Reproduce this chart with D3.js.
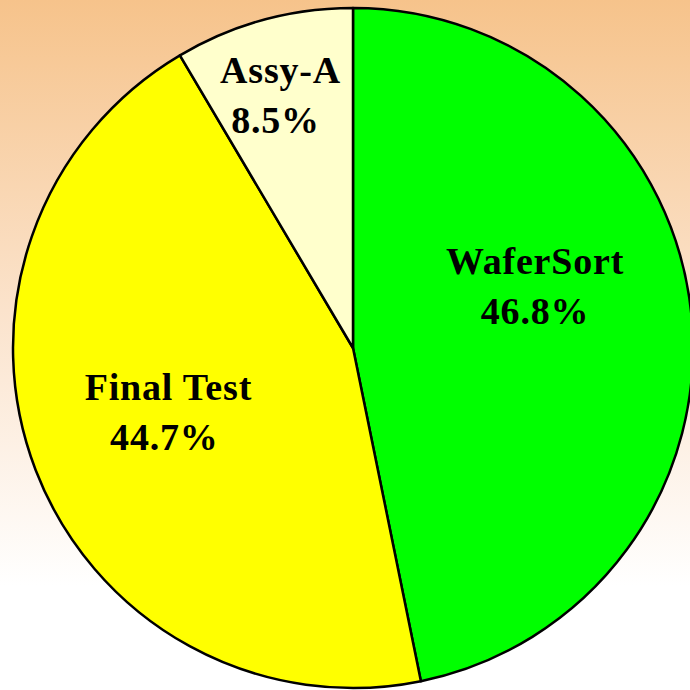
<!DOCTYPE html>
<html>
<head>
<meta charset="utf-8">
<script src="https://cdn.jsdelivr.net/npm/d3@7"></script>
<style>
  html, body { margin: 0; padding: 0; overflow: hidden; }
</style>
</head>
<body>
<script>
// slice data, clockwise from 12 o'clock
var names = ['WaferSort', 'Final Test', 'Assy-A'],
	shares = [46.8, 44.7, 8.5],
	labels = ['46.8%', '44.7%', '8.5%'],
	colors = ['#00ff00', '#ffff00', '#ffffcc'];

var width = 690,
	height = 690;

// pie geometry
var cx = 353, cy = 348, r = 340;

// where each label sits (radius from center, plus a little nudge)
var labelR = [190, 200, 252],
	nudge = [[-7, -43], [2, -8], [-6, -10]];

var svg = d3.select('body')
	.append('svg')
	.attr('width', width)
	.attr('height', height);

// background fade, peach at the top to white at the bottom
var grad = svg.append('defs').append('linearGradient')
	.attr('id', 'bg')
	.attr('x1', 0).attr('y1', 0)
	.attr('x2', 0).attr('y2', 1);
grad.append('stop').attr('offset', '0%').attr('stop-color', '#f6c38b');
grad.append('stop').attr('offset', '45%').attr('stop-color', '#fbe3cc');
grad.append('stop').attr('offset', '85%').attr('stop-color', '#ffffff');

svg.append('rect')
	.attr('width', width)
	.attr('height', height)
	.attr('fill', 'url(#bg)');

var pie = d3.pie()
	.sort(null)
	.value(function(d) { return d; });

var arc = d3.arc()
	.innerRadius(0)
	.outerRadius(r);

var arcs = pie(shares);

var g = svg.append('g')
	.attr('transform', 'translate(' + cx + ',' + cy + ')');

g.selectAll('path')
	.data(arcs)
	.enter().append('path')
	.attr('d', arc)
	.attr('fill', function(d, i) { return colors[i]; })
	.attr('stroke', '#000')
	.attr('stroke-width', 2.5)
	.attr('stroke-linejoin', 'round');

var text = g.selectAll('text')
	.data(arcs)
	.enter().append('text')
	.attr('transform', function(d, i) {
		var a = (d.startAngle + d.endAngle) / 2;
		var x = Math.sin(a) * labelR[i] + nudge[i][0],
			y = -Math.cos(a) * labelR[i] + nudge[i][1];
		return 'translate(' + x + ',' + y + ')';
	})
	.attr('text-anchor', 'middle')
	.style('font-family', '"Liberation Serif", "Times New Roman", serif')
	.style('font-weight', 'bold')
	.style('font-size', '38px')
	.style('letter-spacing', '0.8px')
	.attr('fill', '#000');

text.append('tspan')
	.attr('x', 0)
	.attr('y', -12)
	.text(function(d, i) { return names[i]; });

text.append('tspan')
	.attr('x', function(d, i) { return i == 2 ? -5 : (i == 1 ? -4 : 0); })
	.attr('y', 38)
	.text(function(d, i) { return labels[i]; });
</script>
</body>
</html>
